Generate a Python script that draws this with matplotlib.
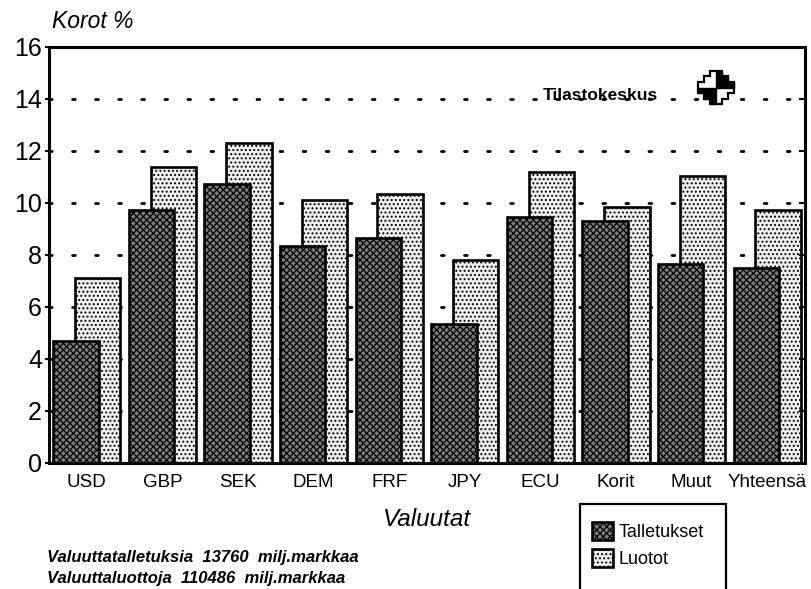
import numpy as np
import matplotlib
matplotlib.use("Agg")
import matplotlib.pyplot as plt
from matplotlib.patches import Rectangle, Polygon

plt.rcParams['font.family'] = ['Liberation Sans', 'DejaVu Sans']
plt.rcParams['hatch.linewidth'] = 0.9

# data
currencies = ["USD", "GBP", "SEK", "DEM", "FRF", "JPY", "ECU", "Korit", "Muut", "Yhteensä"]
talletukset = [4.7, 9.75, 10.75, 8.35, 8.65, 5.35, 9.45, 9.3, 7.65, 7.5]
luotot = [7.1, 11.4, 12.3, 10.1, 10.35, 7.8, 11.2, 9.85, 11.05, 9.75]
series_names = ["Talletukset", "Luotot"]
y_ticks = [0, 2, 4, 6, 8, 10, 12, 14, 16]
grid_levels = [2, 4, 6, 8, 10, 12, 14]

W, H = 811, 589
fig = plt.figure(figsize=(W / 100, H / 100), dpi=100)


def fx(px):
    return px / W


def fy(py):
    return 1 - py / H


ax = fig.add_axes([fx(49), fy(463), fx(805 - 49), (463 - 47) / H])

x = np.arange(len(currencies))
offset = 0.145
width = 0.6

for lvl in grid_levels:
    ax.axhline(lvl, color="black", lw=2.0, dashes=(1.0, 7.3), zorder=0.5,
               dash_capstyle="round")

b_luo = ax.bar(x + offset, luotot, width, facecolor="#eeeeee", edgecolor="black",
               linewidth=1.9, hatch="....", zorder=2)
b_tal = ax.bar(x - offset, talletukset, width, facecolor="#7c7c7c", edgecolor="black",
               linewidth=1.9, hatch="xxxxx", zorder=3)

ax.set_xlim(-0.5, len(currencies) - 0.5)
ax.set_ylim(0, 16)
ax.set_yticks(y_ticks)
ax.set_yticklabels([str(t) for t in y_ticks], fontsize=18)
ax.set_xticks(x)
ax.set_xticklabels(currencies, fontsize=13.5)
ax.tick_params(axis="x", length=0, pad=8)
ax.tick_params(axis="y", direction="out", length=3, width=1.5, pad=2)
for sp in ax.spines.values():
    sp.set_linewidth(2.2)

# inward ticks on the right
for lvl in grid_levels:
    ax.plot([1, 0.993], [lvl, lvl], transform=ax.get_yaxis_transform(),
            color="black", lw=1.5, zorder=4, clip_on=False)

fig.text(fx(52), fy(28), "Korot %", fontsize=16.5, style="italic", va="baseline")
fig.text(fx(543), fy(100), "Tilastokeskus", fontsize=12.5, weight="bold", va="baseline")
fig.text(fx(427), fy(520), "Valuutat", fontsize=17.5, style="italic", ha="center",
         va="center")
fig.text(fx(47), fy(562), "Valuuttatalletuksia  13760  milj.markkaa", fontsize=12,
         style="italic", weight="bold", va="baseline")
fig.text(fx(47), fy(583), "Valuuttaluottoja  110486  milj.markkaa", fontsize=12,
         style="italic", weight="bold", va="baseline")

# logo
lax = fig.add_axes([fx(696), fy(106), fx(40), 37 / H])
outline = [(-1, 3), (1, 3), (1, 2), (2, 2), (2, 1), (3, 1), (3, -1), (2, -1), (2, -2),
           (1, -2), (1, -3), (-1, -3), (-1, -2), (-2, -2), (-2, -1), (-3, -1), (-3, 1),
           (-2, 1), (-2, 2), (-1, 2)]
tr = [(0, 0), (0, 3), (1, 3), (1, 2), (2, 2), (2, 1), (3, 1), (3, 0)]
bl = [(-a, -b) for a, b in tr]
lax.add_patch(Polygon(outline, closed=True, facecolor="white", edgecolor="black", lw=1.6))
lax.add_patch(Polygon(tr, closed=True, facecolor="black", edgecolor="black", lw=1))
lax.add_patch(Polygon(bl, closed=True, facecolor="black", edgecolor="black", lw=1))
lax.set_xlim(-3.3, 3.3)
lax.set_ylim(-3.3, 3.3)
lax.axis("off")

# legend
fig.patches.append(Rectangle((fx(580), fy(620)), fx(726 - 580), (620 - 504) / H,
                             transform=fig.transFigure, fill=False, edgecolor="black",
                             lw=1.6))
fig.legend([b_tal, b_luo], series_names, loc="upper left",
           bbox_to_anchor=(fx(592), fy(522)), frameon=False, fontsize=13,
           handlelength=1.15, handleheight=1.15, handletextpad=0.3, labelspacing=0.45,
           borderaxespad=0, borderpad=0)

fig.savefig("out.png", dpi=100)
